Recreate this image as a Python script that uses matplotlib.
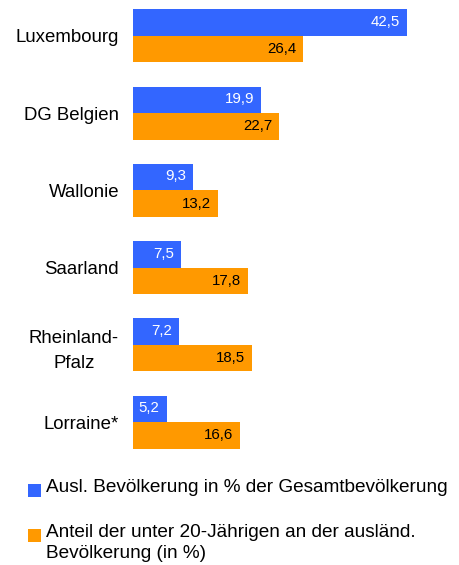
import matplotlib
matplotlib.use("Agg")
import matplotlib.pyplot as plt
from matplotlib.patches import Rectangle
import numpy as np

plt.rcParams["font.family"] = ["Liberation Sans", "DejaVu Sans"]

# data
regions = ["Luxembourg", "DG Belgien", "Wallonie", "Saarland",
           "Rheinland-\nPfalz", "Lorraine*"]
foreign_share = [42.5, 19.9, 9.3, 7.5, 7.2, 5.2]
under20_share = [26.4, 22.7, 13.2, 17.8, 18.5, 16.6]
series_names = ["Ausl. Bevölkerung in % der Gesamtbevölkerung",
                "Anteil der unter 20-Jährigen an der ausländ.\nBevölkerung (in %)"]

BLUE = "#3366FF"
ORANGE = "#FF9900"

W, H = 459, 565
fig = plt.figure(figsize=(W / 100, H / 100), dpi=100)

# axes placed in pixel terms: bars start at x=133, groups every ~77 px
left_px, top_px, bottom_px = 133, 0, 460
ax = fig.add_axes([left_px / W, 1 - bottom_px / H,
                   (W - left_px) / W, (bottom_px - top_px) / H])

px_per_unit = 6.45
spacing = 77.3
first_center = 35.7
h = 26.5 / spacing

y = np.arange(len(regions))
b1 = ax.barh(y - h / 2, foreign_share, height=h, color=BLUE)
b2 = ax.barh(y + h / 2, under20_share, height=h, color=ORANGE)

ax.set_xlim(0, (W - left_px) / px_per_unit)
ax.set_ylim((bottom_px - first_center) / spacing, -first_center / spacing)

# value labels inside the bar ends
for yy, v in zip(y, foreign_share):
    ax.annotate(f"{v:.1f}".replace(".", ","), xy=(v, yy - h / 2),
                xytext=(-5, 0.5), textcoords="offset points",
                ha="right", va="center", color="white", fontsize=10.8)
for yy, v in zip(y, under20_share):
    ax.annotate(f"{v:.1f}".replace(".", ","), xy=(v, yy + h / 2),
                xytext=(-5, 0), textcoords="offset points",
                ha="right", va="center", color="black", fontsize=10.8)

ax.set_yticks(y)
ax.set_yticklabels(regions, fontsize=13.4, multialignment="center",
                   linespacing=1.6)
ax.tick_params(axis="y", length=0, pad=10)
ax.set_xticks([])
for s in ax.spines.values():
    s.set_visible(False)

# legend drawn by hand so the orange square sits on the first text line
leg_items = [(BLUE, series_names[0], 490), (ORANGE, series_names[1], 535)]
for col, txt, cy in leg_items:
    fig.add_artist(Rectangle((28 / W, 1 - (cy + 6.5) / H), 12.7 / W, 13 / H,
                             transform=fig.transFigure, color=col, lw=0))
    fig.text(46 / W, 1 - (cy - 11) / H, txt, ha="left", va="top",
             fontsize=13.7, linespacing=1.28)

fig.savefig("out.png", dpi=100)
